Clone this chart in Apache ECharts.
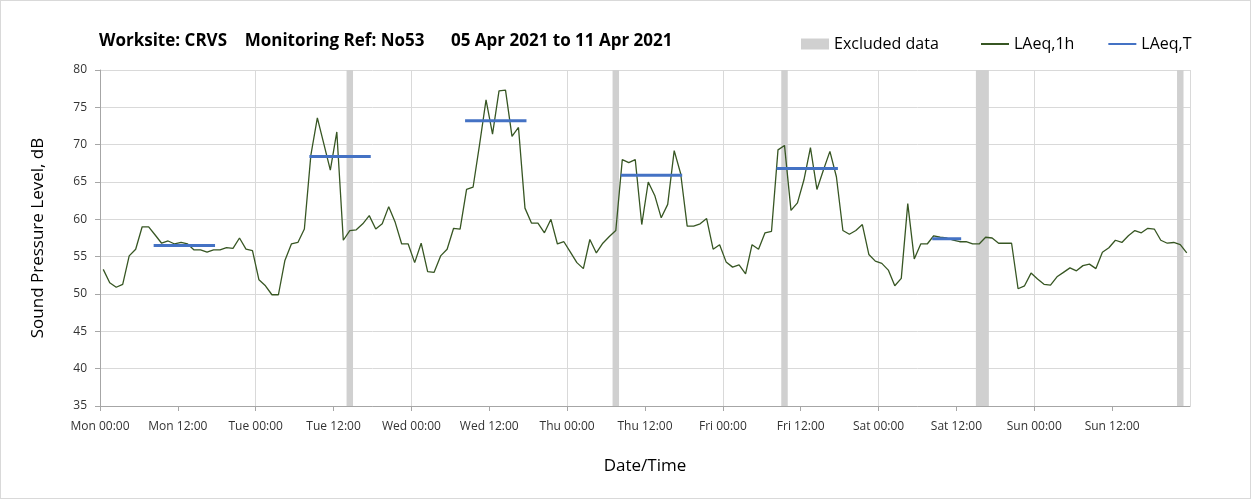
<!DOCTYPE html>
<html>
<head>
<meta charset="utf-8">
<script src="https://cdn.jsdelivr.net/npm/echarts@6/dist/echarts.min.js"></script>
<style>
html, body { margin: 0; padding: 0; background: #fff; }
#chart { width: 1251px; height: 499px; box-sizing: border-box; border: 1px solid #d9d9d9; }
</style>
</head>
<body>
<div id="chart"></div>
<script>
// hourly LAeq,1h values, one per hour from Mon 00:00 (plotted at mid-hour)
var laeq1h = [
  53.3, 51.5, 50.9, 51.3, 55.1, 56.0, 59.0, 59.0, 57.9, 56.8, 57.1, 56.7,
  56.9, 56.7, 55.9, 55.9, 55.6, 55.9, 55.9, 56.2, 56.1, 57.5, 56.0, 55.8,
  51.9, 51.1, 49.9, 49.9, 54.5, 56.7, 56.9, 58.7, 68.6, 73.6, 70.1, 66.6,
  71.7, 57.2, 58.5, 58.6, 59.4, 60.5, 58.7, 59.4, 61.7, 59.6, 56.7, 56.7,
  54.2, 56.8, 53.0, 52.9, 55.1, 56.0, 58.8, 58.7, 64.0, 64.3, 70.0, 76.0,
  71.4, 77.2, 77.3, 71.1, 72.3, 61.5, 59.5, 59.5, 58.2, 60.0, 56.7, 57.0,
  55.6, 54.2, 53.4, 57.3, 55.5, 56.8, 57.7, 58.5, 68.0, 67.6, 68.0, 59.3,
  65.0, 63.2, 60.2, 62.0, 69.2, 66.1, 59.1, 59.1, 59.4, 60.1, 56.0, 56.6,
  54.3, 53.6, 53.9, 52.7, 56.6, 56.0, 58.2, 58.4, 69.3, 69.9, 61.2, 62.2,
  65.3, 69.6, 64.0, 66.6, 69.1, 65.7, 58.5, 58.0, 58.5, 59.3, 55.3, 54.4,
  54.1, 53.2, 51.1, 52.1, 62.1, 54.7, 56.7, 56.7, 57.8, 57.6, 57.5, 57.2,
  57.0, 57.0, 56.7, 56.7, 57.6, 57.5, 56.8, 56.8, 56.8, 50.7, 51.1, 52.8,
  52.0, 51.3, 51.2, 52.3, 52.9, 53.5, 53.1, 53.8, 54.0, 53.4, 55.6, 56.2,
  57.2, 56.9, 57.8, 58.5, 58.2, 58.8, 58.7, 57.2, 56.8, 56.9, 56.6, 55.5
];

// LAeq,T periods (hours from Mon 00:00)
var periodStart = [8.5, 32.5, 56.5, 80.5, 104.5, 128.5];
var periodEnd   = [17.5, 41.5, 65.5, 89.5, 113.5, 132.5];
var periodValue = [56.5, 68.4, 73.2, 65.9, 66.8, 57.4];

// excluded data (hours from Mon 00:00)
var excludedStart = [38, 79, 105, 135, 166];
var excludedEnd   = [39, 80, 106, 137, 167];

var dayNames = ['Mon', 'Tue', 'Wed', 'Thu', 'Fri', 'Sat', 'Sun', 'Mon'];
var tickHours = ['00:00', '12:00'];

var chart = echarts.init(document.getElementById('chart'));

var lineData = [];
for (var i = 0; i < laeq1h.length; i++) {
  lineData.push([i + 0.5, laeq1h[i]]);
}

var excludedAreas = [];
for (var i = 0; i < excludedStart.length; i++) {
  excludedAreas.push([{ xAxis: excludedStart[i] }, { xAxis: excludedEnd[i] }]);
}

var series = [
  {
    name: 'Excluded data',
    type: 'line',
    data: [],
    itemStyle: { color: '#d0d0d0' },
    markArea: {
      silent: true,
      itemStyle: { color: '#d0d0d0' },
      data: excludedAreas
    },
    z: 1
  },
  {
    name: 'LAeq,1h',
    type: 'line',
    data: lineData,
    showSymbol: false,
    lineStyle: { color: '#375623', width: 1.3 },
    itemStyle: { color: '#375623' },
    z: 3
  }
];

for (var i = 0; i < periodStart.length; i++) {
  series.push({
    name: 'LAeq,T',
    type: 'line',
    data: [[periodStart[i], periodValue[i]], [periodEnd[i], periodValue[i]]],
    showSymbol: false,
    lineStyle: { color: '#4472c4', width: 3, cap: 'square' },
    itemStyle: { color: '#4472c4' },
    z: 4
  });
}

var font = '"Open Sans", Lato, sans-serif';

var option = {
  animation: false,
  textStyle: { fontFamily: font },
  title: {
    text: 'Worksite: CRVS    Monitoring Ref: No53      05 Apr 2021 to 11 Apr 2021',
    left: 98,
    top: 32,
    padding: 0,
    textStyle: { fontSize: 17, fontWeight: 'bold', color: '#000', fontFamily: font }
  },
  legend: [
    {
      data: ['Excluded data'],
      left: 800,
      top: 35,
      padding: 0,
      icon: 'rect',
      itemWidth: 28,
      itemHeight: 11,
      textStyle: { fontSize: 16, color: '#000', fontFamily: font }
    },
    {
      data: ['LAeq,1h', 'LAeq,T'],
      left: 980,
      top: 35,
      padding: 0,
      icon: 'rect',
      itemWidth: 28,
      itemHeight: 2,
      itemGap: 34,
      textStyle: { fontSize: 16, color: '#000', fontFamily: font }
    }
  ],
  grid: { left: 99, right: 60, top: 69, bottom: 92 },
  xAxis: [
    {
      type: 'value',
      min: 0,
      max: 168,
      interval: 12,
      name: 'Date/Time',
      nameLocation: 'middle',
      nameGap: 52,
      nameTextStyle: { fontSize: 17, color: '#000' },
      axisLine: { show: true, lineStyle: { color: '#a6a6a6' } },
      axisTick: { show: true, length: 5, lineStyle: { color: '#a6a6a6' } },
      axisLabel: {
        color: '#333',
        fontSize: 12,
        margin: 15,
        showMaxLabel: false,
        formatter: function (v) {
          return dayNames[Math.floor(v / 24)] + ' ' + tickHours[(v % 24) / 12];
        }
      },
      splitLine: { show: false }
    },
    {
      type: 'value',
      min: 0,
      max: 168,
      interval: 24,
      position: 'bottom',
      axisLine: { show: false },
      axisTick: { show: false },
      axisLabel: { show: false },
      splitLine: { show: true, lineStyle: { color: '#d9d9d9' } }
    }
  ],
  yAxis: {
    type: 'value',
    min: 35,
    max: 80,
    interval: 5,
    name: 'Sound Pressure Level, dB',
    nameLocation: 'middle',
    nameGap: 53,
    nameTextStyle: { fontSize: 17, color: '#000' },
    axisLine: { show: true, lineStyle: { color: '#a6a6a6' } },
    axisTick: { show: true, length: 5, lineStyle: { color: '#a6a6a6' } },
    axisLabel: { color: '#333', fontSize: 12, margin: 13 },
    splitLine: { show: true, lineStyle: { color: '#d9d9d9' } }
  },
  series: series
};

chart.setOption(option);
</script>
</body>
</html>
